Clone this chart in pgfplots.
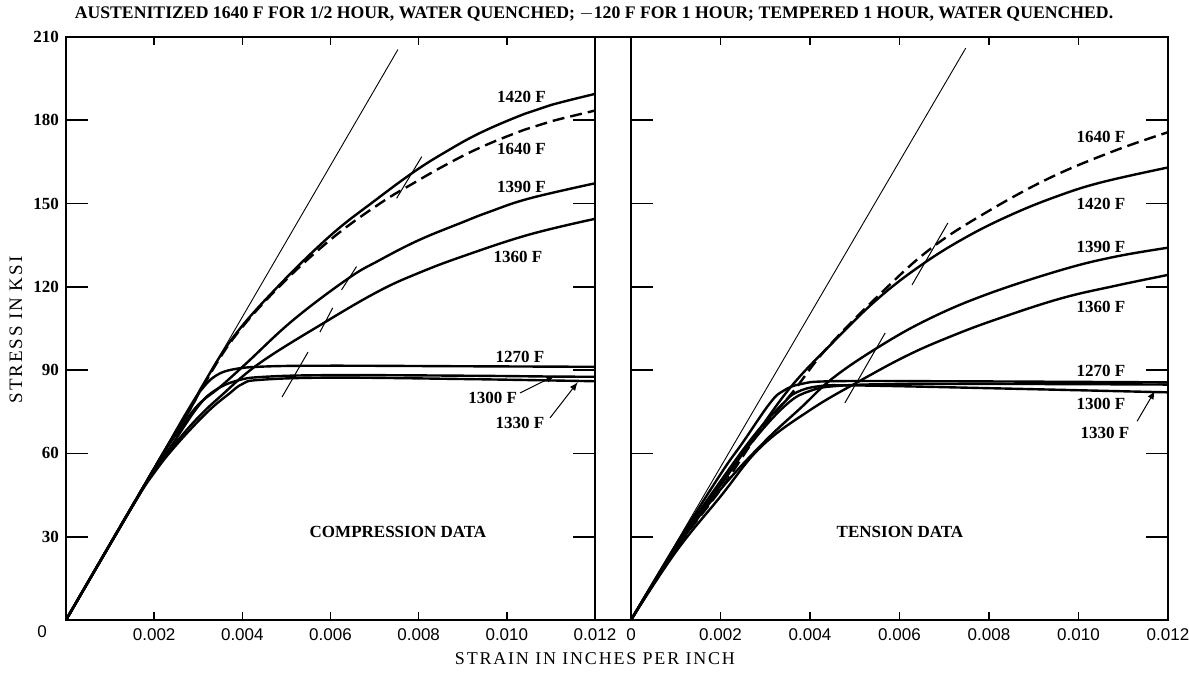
\documentclass[border=0pt]{standalone}
\usepackage{fontspec}
\setmainfont{Liberation Serif}
\newfontfamily\tickfont{Liberation Sans}
\newfontfamily\spacedfont[LetterSpace=10]{Liberation Serif}
\usepackage{pgfplots}
\pgfplotsset{compat=1.18}
\tikzset{
  curve/.style={black, line width=1.2pt, smooth, tension=0.65},
  dcurve/.style={black, line width=1.2pt, smooth, tension=0.65, dash pattern=on 6pt off 3pt},
  elastic/.style={black, line width=0.45pt},
  slash/.style={black, line width=0.5pt},
  lab/.style={font=\bfseries\fontsize{8.5}{9}\selectfont},
}
\begin{document}
\begin{tikzpicture}
\path[use as bounding box] (0,0) rectangle (594.5pt,337.5pt);
\pgfplotsset{
  panel/.style={
    scale only axis, height=291.5pt,
    xmin=0, xmax=0.012, ymin=0, ymax=210,
    axis line style={line width=0.8pt},
    scaled x ticks=false, scaled y ticks=false,
    ytick={30,60,...,210},
    tick align=inside,
    xtick style={black, line width=0.7pt, /pgfplots/major tick length=4pt},
    ytick style={black, line width=0.9pt, /pgfplots/major tick length=11pt},
    xticklabel style={font=\tickfont\fontsize{8.5}{9}\selectfont, yshift=-1pt},
    yticklabel style={font=\bfseries\fontsize{8.5}{9}\selectfont},
    /pgf/number format/assume math mode=true,
  },
}
% ---------- Compression ----------
\begin{axis}[panel, name=left, width=264.5pt, at={(33pt,27.5pt)}, anchor=south west,
  xtick={0.002,0.004,0.006,0.008,0.010,0.012},
  xticklabels={0.002,0.004,0.006,0.008,0.010,0.012},
  yticklabels={30,60,90,120,150,180,210}]
\addplot[elastic] coordinates {(0,0) (0.00753,205.5)};
% 1420 F
\addplot[curve] coordinates {(0,0) (0.002,54.6) (0.0028,75.5) (0.0031,84.5) (0.0038,102) (0.0048,120) (0.006,138.5) (0.007,151) (0.0079,161.5) (0.0086,168.5) (0.0094,175.5) (0.0104,182.3) (0.011,185.5) (0.012,189.5)};
% 1640 F
\addplot[dcurve] coordinates {(0,0) (0.002,54.6) (0.0028,75.5) (0.0031,84) (0.0038,101.5) (0.0048,119.5) (0.006,137) (0.0071,149.8) (0.0079,157.5) (0.0086,163.8) (0.0094,170.2) (0.0104,176.6) (0.011,179.6) (0.012,183.5)};
% 1390 F
\addplot[curve] coordinates {(0,0) (0.002,54.5) (0.0026,69) (0.003,77.5) (0.0035,84) (0.0041,92.6) (0.00515,108) (0.0064,123) (0.0071,129.5) (0.008,136.8) (0.009,143.3) (0.0096,147) (0.0105,151.8) (0.012,157.3)};
% 1360 F
\addplot[curve] coordinates {(0,0) (0.0015,40.8) (0.002,53.5) (0.0025,64) (0.003,73) (0.0035,80.5) (0.0044,92.6) (0.0059,107.5) (0.0071,118.5) (0.008,125) (0.009,131) (0.0105,138.8) (0.012,144.5)};
% 1270 F
\addplot[curve] coordinates {(0,0) (0.002,54.6) (0.0028,76.5) (0.0031,83.5) (0.0034,88) (0.0038,90.3) (0.0045,91.3) (0.006,91.6) (0.009,91.4) (0.012,91.2)};
% 1300 F
\addplot[curve] coordinates {(0,0) (0.0015,40.8) (0.002,54) (0.0024,63) (0.003,77) (0.0034,82.9) (0.0039,86.3) (0.0045,87.6) (0.006,88.2) (0.009,88) (0.011,87.7) (0.012,87.6)};
% 1330 F
\addplot[curve] coordinates {(0,0) (0.0015,40.8) (0.002,53) (0.0025,63) (0.0032,74.8) (0.0037,81.5) (0.004,85) (0.0044,86.5) (0.006,87.3) (0.009,86.8) (0.012,86)};
% offset marks
\addplot[slash] coordinates {(0.0049,80.3) (0.00549,96.5)};
\addplot[slash] coordinates {(0.00576,103.7) (0.00605,112.4)};
\addplot[slash] coordinates {(0.00625,118.9) (0.00659,127.3)};
\addplot[slash] coordinates {(0.0075,151.9) (0.00807,166.9)};
\node[lab] at (axis cs:0.01033,188.3) {1420 F};
\node[lab] at (axis cs:0.01033,169.7) {1640 F};
\node[lab] at (axis cs:0.01033,156.1) {1390 F};
\node[lab] at (axis cs:0.01025,130.9) {1360 F};
\node[lab] at (axis cs:0.0103,94.9) {1270 F};
\node[lab] at (axis cs:0.00968,80) {1300 F};
\node[lab] at (axis cs:0.0103,71) {1330 F};
\draw[-latex, line width=0.5pt] (axis cs:0.0103,81.8) -- (axis cs:0.01109,88);
\draw[-latex, line width=0.5pt] (axis cs:0.01098,72.8) -- (axis cs:0.01161,85.7);
\node[lab] at (axis cs:0.00753,31.7) {COMPRESSION DATA};
\end{axis}
% ---------- Tension ----------
\begin{axis}[panel, name=right, width=268.5pt, at={(315.5pt,27.5pt)}, anchor=south west,
  xtick={0,0.002,0.004,0.006,0.008,0.010,0.012},
  xticklabels={0,0.002,0.004,0.006,0.008,0.010,0.012},
  yticklabels={}]
\addplot[elastic] coordinates {(0,0) (0.00748,206)};
% 1640 F
\addplot[dcurve] coordinates {(0,0) (0.001,25.5) (0.002,47) (0.0029,68.4) (0.0036,81.8) (0.0044,98.3) (0.0057,119.5) (0.0067,133.8) (0.0078,145.5) (0.0093,158.8) (0.01077,168.8) (0.012,175.7)};
% 1420 F
\addplot[curve] coordinates {(0,0) (0.001,26) (0.002,48.5) (0.0028,67) (0.0036,84.5) (0.0045,99.8) (0.0055,115.5) (0.0065,128) (0.0075,138) (0.0085,146) (0.0095,152.5) (0.0105,157.6) (0.012,163)};
% 1390 F
\addplot[curve] coordinates {(0,0) (0.001,25.5) (0.002,47) (0.003,64.5) (0.0038,76.5) (0.0045,87) (0.0055,98) (0.0066,108) (0.0079,117) (0.0096,126) (0.0108,130.8) (0.012,134.1)};
% 1360 F
\addplot[curve] coordinates {(0,0) (0.001,24.5) (0.002,44.5) (0.0029,62.3) (0.004,75.6) (0.0051,86) (0.0062,95.5) (0.0072,102.5) (0.0082,108.5) (0.0096,115.8) (0.0108,120.3) (0.012,124.3)};
% 1270 F
\addplot[curve] coordinates {(0,0) (0.001,27) (0.002,52.5) (0.0025,64) (0.0031,78) (0.0034,82.5) (0.0038,85) (0.0045,86) (0.007,86) (0.012,85.6)};
% 1300 F
\addplot[curve] coordinates {(0,0) (0.001,26) (0.002,49) (0.0028,66) (0.0035,78) (0.004,82.5) (0.0046,84.3) (0.006,85) (0.009,85) (0.012,84.8)};
% 1330 F
\addplot[curve] coordinates {(0,0) (0.001,26.5) (0.002,50) (0.0028,67.5) (0.0034,78) (0.0037,82) (0.0042,84.2) (0.005,84.5) (0.008,83.5) (0.012,82)};
% offset marks
\addplot[slash] coordinates {(0.00478,78.2) (0.00568,103.4)};
\addplot[slash] coordinates {(0.00628,120.7) (0.00708,143)};
\node[lab] at (axis cs:0.0105,174.1) {1640 F};
\node[lab] at (axis cs:0.0105,149.9) {1420 F};
\node[lab] at (axis cs:0.0105,134.5) {1390 F};
\node[lab] at (axis cs:0.0105,112.9) {1360 F};
\node[lab] at (axis cs:0.0105,89.7) {1270 F};
\node[lab] at (axis cs:0.0105,77.8) {1300 F};
\node[lab] at (axis cs:0.01059,67.4) {1330 F};
\draw[-latex, line width=0.5pt] (axis cs:0.01131,71.6) -- (axis cs:0.01171,82.6);
\node[lab] at (axis cs:0.00601,31.7) {TENSION DATA};
\end{axis}
\draw[line width=0.8pt] (left.north east) -- (right.north west);
\draw[line width=0.8pt] (left.south east) -- (right.south west);
\node[font=\tickfont\fontsize{8.5}{9}\selectfont] at (21pt,21.5pt) {0};
\node[font=\spacedfont\fontsize{9.5}{10}\selectfont, rotate=90] at (8pt,172.5pt) {STRESS IN KSI};
\node[font=\spacedfont\fontsize{9}{10}\selectfont] at (297.5pt,8pt) {STRAIN IN INCHES PER INCH};
\node[font=\bfseries\fontsize{8.85}{10}\selectfont] at (297pt,330.5pt) {AUSTENITIZED 1640 F FOR 1/2 HOUR, WATER QUENCHED; $-$120 F FOR 1 HOUR; TEMPERED 1 HOUR, WATER QUENCHED.};
\end{tikzpicture}
\end{document}
